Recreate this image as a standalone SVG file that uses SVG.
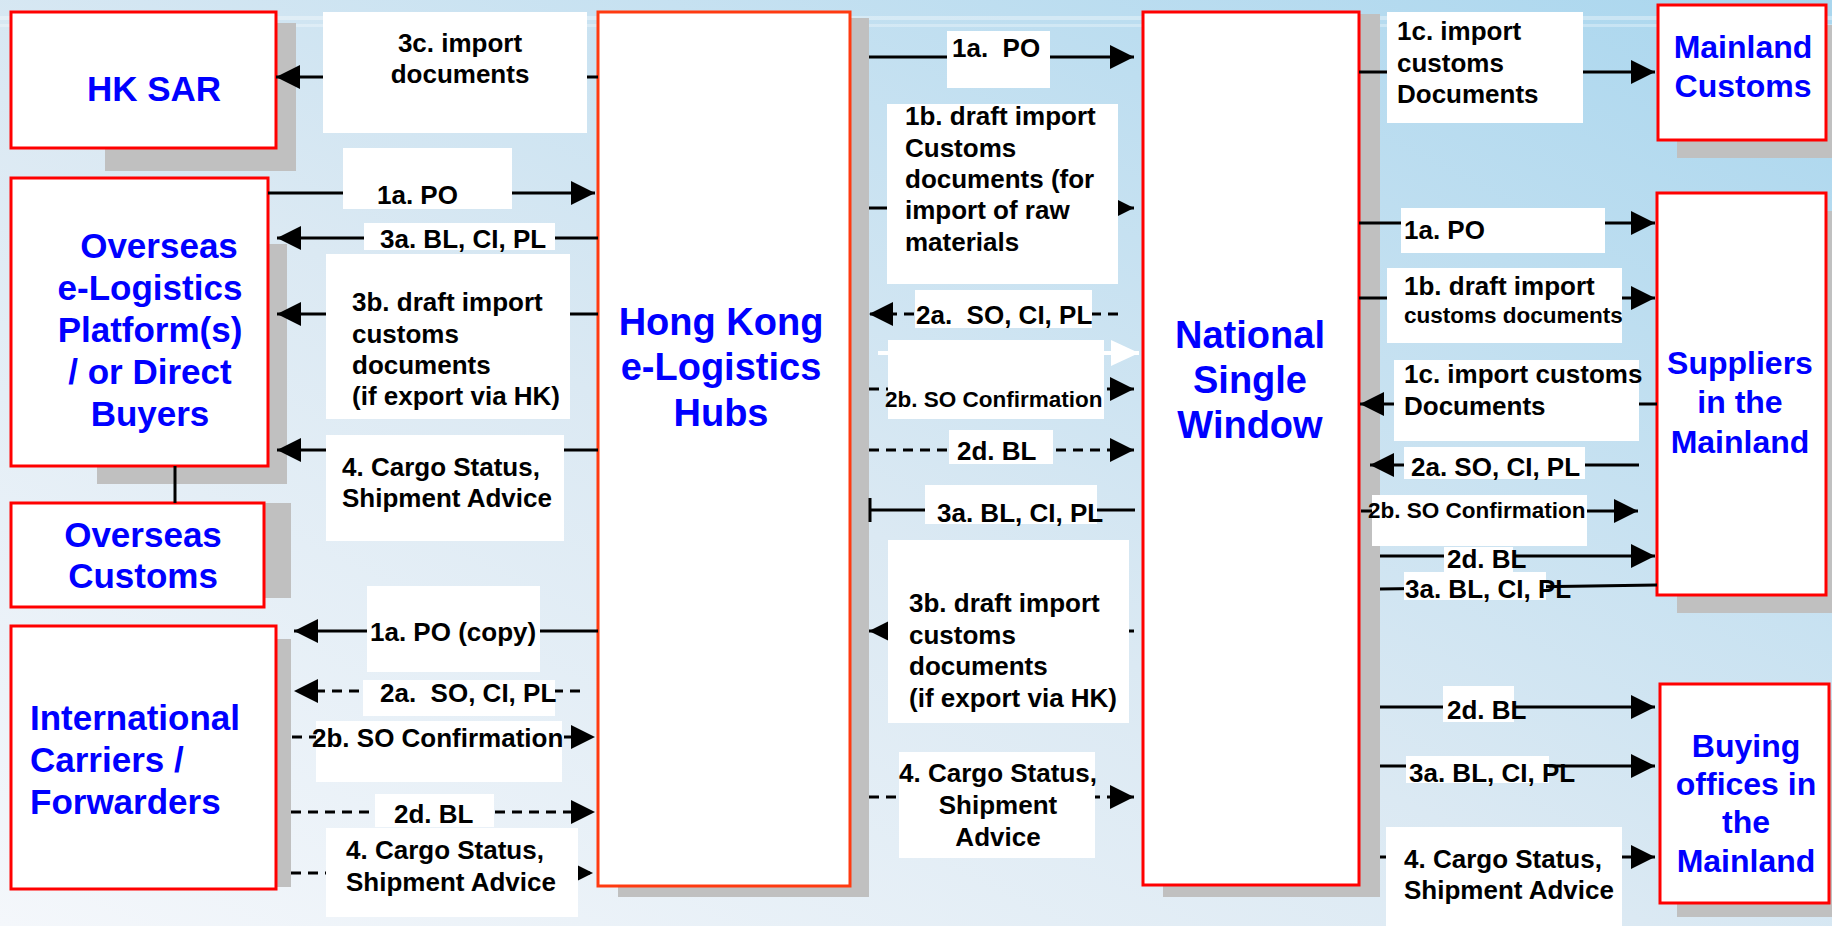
<svg xmlns="http://www.w3.org/2000/svg" width="1832" height="926" viewBox="0 0 1832 926">
<defs>
<linearGradient id="bg" x1="0" y1="1" x2="1" y2="0">
<stop offset="0" stop-color="#f4f7fb"/>
<stop offset="0.45" stop-color="#dbe9f3"/>
<stop offset="1" stop-color="#a9d6ee"/>
</linearGradient>
<marker id="ah" markerUnits="userSpaceOnUse" markerWidth="24" markerHeight="24" refX="24" refY="12" orient="auto"><path d="M0,0 L24,12 L0,24 z" fill="#000"/></marker>
<marker id="ahs" markerUnits="userSpaceOnUse" markerWidth="16" markerHeight="16" refX="16" refY="8" orient="auto"><path d="M0,0 L16,8 L0,16 z" fill="#000"/></marker>
<marker id="ahw" markerUnits="userSpaceOnUse" markerWidth="28" markerHeight="26" refX="28" refY="13" orient="auto"><path d="M0,0 L28,13 L0,26 z" fill="#fff"/></marker>
<style>
.box{fill:#fff;stroke:#ff0000;stroke-width:3}
.hub{fill:#fff;stroke:#ff3a10;stroke-width:3}
.sh{fill:#c0c0c0}
.nt{font-family:"Liberation Sans",Arial,sans-serif;font-weight:bold;fill:#0000ff;text-anchor:middle}
.n35{font-size:35px}
.n38{font-size:38px}
.n32{font-size:32px}
.c{fill:none;stroke:#000;stroke-width:3}
.d{stroke-dasharray:10 7}
.lbox{fill:#fff}
.lb{font-family:"Liberation Sans",Arial,sans-serif;font-weight:bold;font-size:26px;fill:#000;white-space:pre}
.lbs{font-family:"Liberation Sans",Arial,sans-serif;font-weight:bold;font-size:22.5px;fill:#000;white-space:pre}
</style>
</defs>
<rect x="0" y="0" width="1832" height="926" fill="url(#bg)"/>
<rect x="0" y="16" width="1832" height="4" fill="#ffffff" opacity="0.35"/>
<rect x="0" y="24" width="1832" height="3" fill="#ffffff" opacity="0.3"/>

<g id="shadows">
<rect class="sh" x="105" y="23" width="191" height="148"/>
<rect class="sh" x="97" y="244" width="190" height="240"/>
<rect class="sh" x="100" y="503" width="191" height="95"/>
<rect class="sh" x="100" y="639" width="191" height="248"/>
<rect class="sh" x="618" y="18" width="251" height="879"/>
<rect class="sh" x="1163" y="14" width="217" height="883"/>
<rect class="sh" x="1677" y="25" width="160" height="133"/>
<rect class="sh" x="1677" y="211" width="160" height="402"/>
<rect class="sh" x="1677" y="700" width="160" height="217"/>
</g>

<g id="node-hksar">
<rect class="box" x="11" y="12" width="265" height="136"/>
<text class="nt n35" x="154" y="101">HK SAR</text>
</g>
<g id="node-overseas-platform">
<rect class="box" x="11" y="178" width="257" height="288"/>
<text class="nt n35" x="159" y="258">Overseas</text>
<text class="nt n35" x="150" y="300">e-Logistics</text>
<text class="nt n35" x="150" y="342">Platform(s)</text>
<text class="nt n35" x="150" y="384">/ or Direct</text>
<text class="nt n35" x="150" y="426">Buyers</text>
</g>
<g id="node-overseas-customs">
<rect class="box" x="11" y="503" width="253" height="104"/>
<text class="nt n35" x="143" y="547">Overseas</text>
<text class="nt n35" x="143" y="588">Customs</text>
</g>
<g id="node-carriers">
<rect class="box" x="11" y="626" width="265" height="263"/>
<text class="nt n35" x="30" y="730" style="text-anchor:start">International</text>
<text class="nt n35" x="30" y="772" style="text-anchor:start">Carriers /</text>
<text class="nt n35" x="30" y="814" style="text-anchor:start">Forwarders</text>
</g>
<g id="node-hk-hubs">
<rect class="hub" x="598" y="12" width="252" height="874"/>
<text class="nt n38" x="721" y="335">Hong Kong</text>
<text class="nt n38" x="721" y="380">e-Logistics</text>
<text class="nt n38" x="721" y="426">Hubs</text>
</g>
<g id="node-nsw">
<rect class="box" x="1143" y="12" width="216" height="873"/>
<text class="nt n38" x="1250" y="348">National</text>
<text class="nt n38" x="1250" y="393">Single</text>
<text class="nt n38" x="1250" y="438">Window</text>
</g>
<g id="node-mainland-customs">
<rect class="box" x="1658" y="5" width="168" height="135"/>
<text class="nt n32" x="1743" y="58">Mainland</text>
<text class="nt n32" x="1743" y="97">Customs</text>
</g>
<g id="node-suppliers">
<rect class="box" x="1657" y="193" width="169" height="402"/>
<text class="nt n32" x="1740" y="374">Suppliers</text>
<text class="nt n32" x="1740" y="413">in the</text>
<text class="nt n32" x="1740" y="453">Mainland</text>
</g>
<g id="node-buying">
<rect class="box" x="1660" y="684" width="169" height="219"/>
<text class="nt n32" x="1746" y="757">Buying</text>
<text class="nt n32" x="1746" y="795">offices in</text>
<text class="nt n32" x="1746" y="833">the</text>
<text class="nt n32" x="1746" y="872">Mainland</text>
</g>

<g id="connectors">
<path class="c" d="M175,466 V503"/>
<path class="c" d="M598,77 H276" marker-end="url(#ah)"/>
<path class="c" d="M268,193 H595" marker-end="url(#ah)"/>
<path class="c" d="M598,238 H277" marker-end="url(#ah)"/>
<path class="c" d="M598,314 H277" marker-end="url(#ah)"/>
<path class="c" d="M598,450 H277" marker-end="url(#ah)"/>
<path class="c" d="M598,631 H294" marker-end="url(#ah)"/>
<path class="c d" d="M580,691 H294" marker-end="url(#ah)"/>
<path class="c d" d="M292,737 H595" marker-end="url(#ah)"/>
<path class="c d" d="M291,812 H595" marker-end="url(#ah)"/>
<path class="c d" d="M291,873 H593" marker-end="url(#ahs)"/>

<path class="c" d="M869,57 H1134" marker-end="url(#ah)"/>
<path class="c" d="M869,208 H1134" marker-end="url(#ahs)"/>
<path class="c d" d="M1118,314 H869" marker-end="url(#ah)"/>
<path fill="none" stroke="#fff" stroke-width="4" d="M878,353 H1139" marker-end="url(#ahw)"/>
<path class="c d" d="M869,389 H1134" marker-end="url(#ah)"/>
<path class="c d" d="M869,450 H1134" marker-end="url(#ah)"/>
<path class="c" d="M1135,510 H870 M870,498 V522"/>
<path class="c d" d="M1134,631 H869" marker-end="url(#ah)"/>
<path class="c d" d="M869,797 H1134" marker-end="url(#ah)"/>

<path class="c" d="M1359,72 H1655" marker-end="url(#ah)"/>
<path class="c" d="M1359,223 H1655" marker-end="url(#ah)"/>
<path class="c" d="M1359,298 H1655" marker-end="url(#ah)"/>
<path class="c" d="M1657,404 H1360" marker-end="url(#ah)"/>
<path class="c" d="M1639,465 H1370" marker-end="url(#ah)"/>
<path class="c" d="M1361,511 H1638" marker-end="url(#ah)"/>
<path class="c" d="M1380,556 H1655" marker-end="url(#ah)"/>
<path class="c" d="M1380,589 L1657,585"/>
<path class="c" d="M1380,707 H1655" marker-end="url(#ah)"/>
<path class="c" d="M1380,766 H1655" marker-end="url(#ah)"/>
<path class="c" d="M1380,857 H1655" marker-end="url(#ah)"/>
</g>

<g id="labels">
<rect class="lbox" x="323" y="12" width="264" height="121"/>
<text class="lb" x="460" y="52" style="text-anchor:middle">3c. import</text>
<text class="lb" x="460" y="83" style="text-anchor:middle">documents</text>

<rect class="lbox" x="343" y="148" width="169" height="61"/>
<text class="lb" x="377" y="204">1a. PO</text>

<rect class="lbox" x="364" y="223" width="191" height="27"/>
<text class="lb" x="380" y="248">3a. BL, CI, PL</text>

<rect class="lbox" x="326" y="254" width="244" height="165"/>
<text class="lb" x="352" y="311">3b. draft import</text>
<text class="lb" x="352" y="343">customs</text>
<text class="lb" x="352" y="374">documents</text>
<text class="lb" x="352" y="405">(if export via HK)</text>

<rect class="lbox" x="326" y="435" width="238" height="106"/>
<text class="lb" x="342" y="476">4. Cargo Status,</text>
<text class="lb" x="342" y="507">Shipment Advice</text>

<rect class="lbox" x="367" y="586" width="173" height="86"/>
<text class="lb" x="370" y="641">1a. PO (copy)</text>

<rect class="lbox" x="363" y="680" width="192" height="36"/>
<text class="lb" x="380" y="702">2a.  SO, CI, PL</text>

<rect class="lbox" x="316" y="721" width="246" height="61"/>
<text class="lb" x="312" y="747">2b. SO Confirmation</text>

<rect class="lbox" x="375" y="794" width="119" height="33"/>
<text class="lb" x="394" y="823">2d. BL</text>

<rect class="lbox" x="326" y="828" width="252" height="89"/>
<text class="lb" x="346" y="859">4. Cargo Status,</text>
<text class="lb" x="346" y="891">Shipment Advice</text>

<rect class="lbox" x="947" y="31" width="103" height="57"/>
<text class="lb" x="952" y="57">1a.  PO</text>

<rect class="lbox" x="887" y="104" width="231" height="180"/>
<text class="lb" x="905" y="125">1b. draft import</text>
<text class="lb" x="905" y="157">Customs</text>
<text class="lb" x="905" y="188">documents (for</text>
<text class="lb" x="905" y="219">import of raw</text>
<text class="lb" x="905" y="251">materials</text>

<rect class="lbox" x="915" y="290" width="177" height="38"/>
<text class="lb" x="916" y="324">2a.  SO, CI, PL</text>

<rect class="lbox" x="888" y="340" width="216" height="79"/>
<text class="lbs" x="885" y="407">2b. SO Confirmation</text>

<rect class="lbox" x="949" y="430" width="104" height="34"/>
<text class="lb" x="957" y="460">2d. BL</text>

<rect class="lbox" x="925" y="485" width="172" height="39"/>
<text class="lb" x="937" y="522">3a. BL, CI, PL</text>

<rect class="lbox" x="888" y="540" width="241" height="183"/>
<text class="lb" x="909" y="612">3b. draft import</text>
<text class="lb" x="909" y="644">customs</text>
<text class="lb" x="909" y="675">documents</text>
<text class="lb" x="909" y="707">(if export via HK)</text>

<rect class="lbox" x="899" y="752" width="196" height="106"/>
<text class="lb" x="998" y="782" style="text-anchor:middle">4. Cargo Status,</text>
<text class="lb" x="998" y="814" style="text-anchor:middle">Shipment</text>
<text class="lb" x="998" y="846" style="text-anchor:middle">Advice</text>

<rect class="lbox" x="1387" y="12" width="196" height="111"/>
<text class="lb" x="1397" y="40">1c. import</text>
<text class="lb" x="1397" y="72">customs</text>
<text class="lb" x="1397" y="103">Documents</text>

<rect class="lbox" x="1401" y="208" width="204" height="45"/>
<text class="lb" x="1404" y="239">1a. PO</text>

<rect class="lbox" x="1387" y="268" width="235" height="75"/>
<text class="lb" x="1404" y="295">1b. draft import</text>
<text class="lbs" x="1404" y="323">customs documents</text>

<rect class="lbox" x="1394" y="360" width="245" height="81"/>
<text class="lb" x="1404" y="383">1c. import customs</text>
<text class="lb" x="1404" y="415">Documents</text>

<rect class="lbox" x="1404" y="447" width="181" height="32"/>
<text class="lb" x="1411" y="476">2a. SO, CI, PL</text>

<rect class="lbox" x="1372" y="495" width="215" height="51"/>
<text class="lbs" x="1368" y="518">2b. SO Confirmation</text>

<rect class="lbox" x="1444" y="547" width="69" height="25"/>
<text class="lb" x="1447" y="568">2d. BL</text>

<rect class="lbox" x="1404" y="572" width="142" height="28"/>
<text class="lb" x="1405" y="598">3a. BL, CI, PL</text>

<rect class="lbox" x="1443" y="686" width="71" height="36"/>
<text class="lb" x="1447" y="719">2d. BL</text>

<rect class="lbox" x="1406" y="756" width="143" height="27"/>
<text class="lb" x="1409" y="782">3a. BL, CI, PL</text>

<rect class="lbox" x="1386" y="827" width="236" height="99"/>
<text class="lb" x="1404" y="868">4. Cargo Status,</text>
<text class="lb" x="1404" y="899">Shipment Advice</text>
</g>
</svg>
